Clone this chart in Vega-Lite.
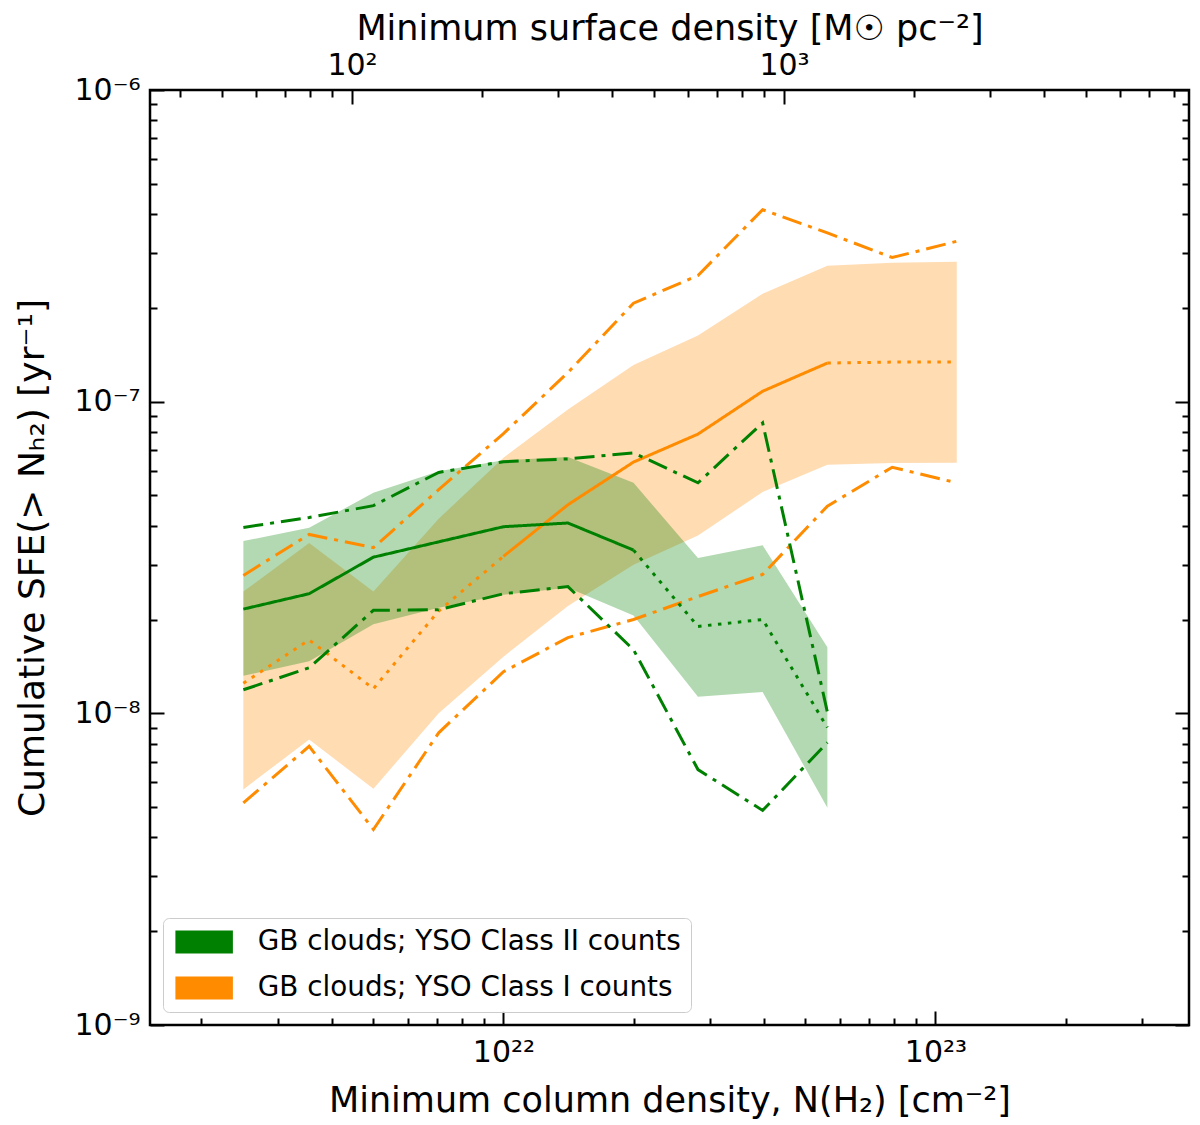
{
  "$schema": "https://vega.github.io/schema/vega-lite/v6.json",
  "description": "Cumulative SFE above a column density threshold, GB clouds, YSO Class I and Class II counts.",
  "width": 1039,
  "height": 935,
  "autosize": {"type": "none"},
  "padding": {"left": 150, "top": 90, "right": 11, "bottom": 100},
  "config": {
    "font": "DejaVu Sans",
    "view": {"stroke": "black", "strokeWidth": 2.5},
    "axis": {
      "domain": false, "grid": false, "tickColor": "black", "tickWidth": 2,
      "labelFont": "DejaVu Sans", "labelFontSize": 30, "labelColor": "black",
      "titleFont": "DejaVu Sans", "titleFontSize": 35, "titleFontWeight": "normal", "titleColor": "black",
      "labelFlush": false, "labelOverlap": false, "labelBound": false
    },
    "legend": {
      "orient": "bottom-left", "offset": 13, "padding": 10, "cornerRadius": 6,
      "strokeColor": "#cccccc", "fillColor": "rgba(255,255,255,0.8)",
      "labelFont": "DejaVu Sans", "labelFontSize": 27.8, "labelColor": "black", "labelLimit": 0,
      "rowPadding": 17, "labelOffset": 57
    }
  },
  "datasets": {
    "bands": [
      {"cls": "GB clouds; YSO Class II counts", "N": 2.5e21, "lo": 1.32e-8, "hi": 3.57e-8},
      {"cls": "GB clouds; YSO Class II counts", "N": 3.55e21, "lo": 1.47e-8, "hi": 3.94e-8},
      {"cls": "GB clouds; YSO Class II counts", "N": 5.0e21, "lo": 1.93e-8, "hi": 5.10e-8},
      {"cls": "GB clouds; YSO Class II counts", "N": 7.08e21, "lo": 2.18e-8, "hi": 5.98e-8},
      {"cls": "GB clouds; YSO Class II counts", "N": 1.0e22, "lo": 2.40e-8, "hi": 6.49e-8},
      {"cls": "GB clouds; YSO Class II counts", "N": 1.41e22, "lo": 2.53e-8, "hi": 6.65e-8},
      {"cls": "GB clouds; YSO Class II counts", "N": 2.0e22, "lo": 2.06e-8, "hi": 5.49e-8},
      {"cls": "GB clouds; YSO Class II counts", "N": 2.82e22, "lo": 1.13e-8, "hi": 3.15e-8},
      {"cls": "GB clouds; YSO Class II counts", "N": 3.98e22, "lo": 1.17e-8, "hi": 3.46e-8},
      {"cls": "GB clouds; YSO Class II counts", "N": 5.62e22, "lo": 4.98e-9, "hi": 1.63e-8},
      {"cls": "GB clouds; YSO Class I counts", "N": 2.5e21, "lo": 5.70e-9, "hi": 2.46e-8},
      {"cls": "GB clouds; YSO Class I counts", "N": 3.55e21, "lo": 8.24e-9, "hi": 3.52e-8},
      {"cls": "GB clouds; YSO Class I counts", "N": 5.0e21, "lo": 5.73e-9, "hi": 2.46e-8},
      {"cls": "GB clouds; YSO Class I counts", "N": 7.08e21, "lo": 1.00e-8, "hi": 4.21e-8},
      {"cls": "GB clouds; YSO Class I counts", "N": 1.0e22, "lo": 1.52e-8, "hi": 6.61e-8},
      {"cls": "GB clouds; YSO Class I counts", "N": 1.41e22, "lo": 2.21e-8, "hi": 9.43e-8},
      {"cls": "GB clouds; YSO Class I counts", "N": 2.0e22, "lo": 3.00e-8, "hi": 1.31e-7},
      {"cls": "GB clouds; YSO Class I counts", "N": 2.82e22, "lo": 3.72e-8, "hi": 1.63e-7},
      {"cls": "GB clouds; YSO Class I counts", "N": 3.98e22, "lo": 5.13e-8, "hi": 2.22e-7},
      {"cls": "GB clouds; YSO Class I counts", "N": 5.62e22, "lo": 6.28e-8, "hi": 2.73e-7},
      {"cls": "GB clouds; YSO Class I counts", "N": 7.94e22, "lo": 6.36e-8, "hi": 2.79e-7},
      {"cls": "GB clouds; YSO Class I counts", "N": 1.12e23, "lo": 6.37e-8, "hi": 2.81e-7}
    ],
    "lines": [
      {"c": "II", "s": "g_med_a", "st": "solid", "N": 2.5e21, "v": 2.16e-8},
      {"c": "II", "s": "g_med_a", "st": "solid", "N": 3.55e21, "v": 2.42e-8},
      {"c": "II", "s": "g_med_a", "st": "solid", "N": 5.0e21, "v": 3.17e-8},
      {"c": "II", "s": "g_med_a", "st": "solid", "N": 7.08e21, "v": 3.55e-8},
      {"c": "II", "s": "g_med_a", "st": "solid", "N": 1.0e22, "v": 3.97e-8},
      {"c": "II", "s": "g_med_a", "st": "solid", "N": 1.41e22, "v": 4.08e-8},
      {"c": "II", "s": "g_med_a", "st": "solid", "N": 2.0e22, "v": 3.34e-8},
      {"c": "II", "s": "g_med_b", "st": "dotted", "N": 2.0e22, "v": 3.34e-8},
      {"c": "II", "s": "g_med_b", "st": "dotted", "N": 2.82e22, "v": 1.90e-8},
      {"c": "II", "s": "g_med_b", "st": "dotted", "N": 3.98e22, "v": 2.00e-8},
      {"c": "II", "s": "g_med_b", "st": "dotted", "N": 5.62e22, "v": 9.0e-9},
      {"c": "II", "s": "g_up", "st": "dashdot", "N": 2.5e21, "v": 3.95e-8},
      {"c": "II", "s": "g_up", "st": "dashdot", "N": 3.55e21, "v": 4.25e-8},
      {"c": "II", "s": "g_up", "st": "dashdot", "N": 5.0e21, "v": 4.64e-8},
      {"c": "II", "s": "g_up", "st": "dashdot", "N": 7.08e21, "v": 5.93e-8},
      {"c": "II", "s": "g_up", "st": "dashdot", "N": 1.0e22, "v": 6.42e-8},
      {"c": "II", "s": "g_up", "st": "dashdot", "N": 1.41e22, "v": 6.55e-8},
      {"c": "II", "s": "g_up", "st": "dashdot", "N": 2.0e22, "v": 6.85e-8},
      {"c": "II", "s": "g_up", "st": "dashdot", "N": 2.82e22, "v": 5.49e-8},
      {"c": "II", "s": "g_up", "st": "dashdot", "N": 3.98e22, "v": 8.55e-8},
      {"c": "II", "s": "g_up", "st": "dashdot", "N": 5.62e22, "v": 1.01e-8},
      {"c": "II", "s": "g_lo", "st": "dashdot", "N": 2.5e21, "v": 1.19e-8},
      {"c": "II", "s": "g_lo", "st": "dashdot", "N": 3.55e21, "v": 1.40e-8},
      {"c": "II", "s": "g_lo", "st": "dashdot", "N": 5.0e21, "v": 2.14e-8},
      {"c": "II", "s": "g_lo", "st": "dashdot", "N": 7.08e21, "v": 2.15e-8},
      {"c": "II", "s": "g_lo", "st": "dashdot", "N": 1.0e22, "v": 2.42e-8},
      {"c": "II", "s": "g_lo", "st": "dashdot", "N": 1.41e22, "v": 2.55e-8},
      {"c": "II", "s": "g_lo", "st": "dashdot", "N": 2.0e22, "v": 1.60e-8},
      {"c": "II", "s": "g_lo", "st": "dashdot", "N": 2.82e22, "v": 6.6e-9},
      {"c": "II", "s": "g_lo", "st": "dashdot", "N": 3.98e22, "v": 4.88e-9},
      {"c": "II", "s": "g_lo", "st": "dashdot", "N": 5.62e22, "v": 8.06e-9},
      {"c": "I", "s": "o_med_a", "st": "dotted", "N": 2.5e21, "v": 1.25e-8},
      {"c": "I", "s": "o_med_a", "st": "dotted", "N": 3.55e21, "v": 1.72e-8},
      {"c": "I", "s": "o_med_a", "st": "dotted", "N": 5.0e21, "v": 1.20e-8},
      {"c": "I", "s": "o_med_a", "st": "dotted", "N": 7.08e21, "v": 2.13e-8},
      {"c": "I", "s": "o_med_a", "st": "dotted", "N": 1.0e22, "v": 3.19e-8},
      {"c": "I", "s": "o_med_b", "st": "solid", "N": 1.0e22, "v": 3.19e-8},
      {"c": "I", "s": "o_med_b", "st": "solid", "N": 1.41e22, "v": 4.67e-8},
      {"c": "I", "s": "o_med_b", "st": "solid", "N": 2.0e22, "v": 6.40e-8},
      {"c": "I", "s": "o_med_b", "st": "solid", "N": 2.82e22, "v": 7.87e-8},
      {"c": "I", "s": "o_med_b", "st": "solid", "N": 3.98e22, "v": 1.08e-7},
      {"c": "I", "s": "o_med_b", "st": "solid", "N": 5.62e22, "v": 1.33e-7},
      {"c": "I", "s": "o_med_c", "st": "dotted", "N": 5.62e22, "v": 1.33e-7},
      {"c": "I", "s": "o_med_c", "st": "dotted", "N": 7.94e22, "v": 1.34e-7},
      {"c": "I", "s": "o_med_c", "st": "dotted", "N": 1.12e23, "v": 1.34e-7},
      {"c": "I", "s": "o_up", "st": "dashdot", "N": 2.5e21, "v": 2.77e-8},
      {"c": "I", "s": "o_up", "st": "dashdot", "N": 3.55e21, "v": 3.75e-8},
      {"c": "I", "s": "o_up", "st": "dashdot", "N": 5.0e21, "v": 3.40e-8},
      {"c": "I", "s": "o_up", "st": "dashdot", "N": 7.08e21, "v": 5.22e-8},
      {"c": "I", "s": "o_up", "st": "dashdot", "N": 1.0e22, "v": 7.9e-8},
      {"c": "I", "s": "o_up", "st": "dashdot", "N": 1.41e22, "v": 1.24e-7},
      {"c": "I", "s": "o_up", "st": "dashdot", "N": 2.0e22, "v": 2.07e-7},
      {"c": "I", "s": "o_up", "st": "dashdot", "N": 2.82e22, "v": 2.54e-7},
      {"c": "I", "s": "o_up", "st": "dashdot", "N": 3.98e22, "v": 4.13e-7},
      {"c": "I", "s": "o_up", "st": "dashdot", "N": 5.62e22, "v": 3.48e-7},
      {"c": "I", "s": "o_up", "st": "dashdot", "N": 7.94e22, "v": 2.90e-7},
      {"c": "I", "s": "o_up", "st": "dashdot", "N": 1.12e23, "v": 3.27e-7},
      {"c": "I", "s": "o_lo", "st": "dashdot", "N": 2.5e21, "v": 5.16e-9},
      {"c": "I", "s": "o_lo", "st": "dashdot", "N": 3.55e21, "v": 7.84e-9},
      {"c": "I", "s": "o_lo", "st": "dashdot", "N": 5.0e21, "v": 4.24e-9},
      {"c": "I", "s": "o_lo", "st": "dashdot", "N": 7.08e21, "v": 8.66e-9},
      {"c": "I", "s": "o_lo", "st": "dashdot", "N": 1.0e22, "v": 1.36e-8},
      {"c": "I", "s": "o_lo", "st": "dashdot", "N": 1.41e22, "v": 1.75e-8},
      {"c": "I", "s": "o_lo", "st": "dashdot", "N": 2.0e22, "v": 2.00e-8},
      {"c": "I", "s": "o_lo", "st": "dashdot", "N": 2.82e22, "v": 2.37e-8},
      {"c": "I", "s": "o_lo", "st": "dashdot", "N": 3.98e22, "v": 2.79e-8},
      {"c": "I", "s": "o_lo", "st": "dashdot", "N": 5.62e22, "v": 4.62e-8},
      {"c": "I", "s": "o_lo", "st": "dashdot", "N": 7.94e22, "v": 6.16e-8},
      {"c": "I", "s": "o_lo", "st": "dashdot", "N": 1.12e23, "v": 5.49e-8}
    ],
    "sigma": [{"S": 100}, {"S": 1000}]
  },
  "resolve": {"scale": {"x": "independent"}, "axis": {"x": "independent", "y": "independent"}},
  "layer": [
    {
      "resolve": {"axis": {"x": "independent", "y": "independent"}},
      "layer": [
        {
          "data": {"name": "bands"},
          "transform": [{"filter": "datum.cls == 'GB clouds; YSO Class I counts'"}],
          "mark": {"type": "area", "fillOpacity": 0.3},
          "encoding": {
            "x": {
              "field": "N", "type": "quantitative",
              "scale": {"type": "log", "domain": [1.52e21, 3.862e23], "nice": false},
              "axis": {
                "orient": "bottom", "values": [1e22, 1e23], "tickSize": -14, "labelPadding": 26,
                "labelExpr": "datum.value < 5e22 ? '10²²' : '10²³'",
                "title": "Minimum column density, N(H₂) [cm⁻²]", "titlePadding": 16
              }
            },
            "y": {
              "field": "lo", "type": "quantitative",
              "scale": {"type": "log", "domain": [1e-9, 1e-6], "nice": false},
              "axis": {
                "orient": "left", "values": [1e-9, 1e-8, 1e-7, 1e-6], "tickSize": -14, "labelPadding": 24,
                "labelExpr": "datum.value < 5e-9 ? '10⁻⁹' : (datum.value < 5e-8 ? '10⁻⁸' : (datum.value < 5e-7 ? '10⁻⁷' : '10⁻⁶'))",
                "title": "Cumulative SFE(> Nₕ₂) [yr⁻¹]", "titlePadding": 22, "titleFontSize": 36
              }
            },
            "y2": {"field": "hi"},
            "color": {
              "field": "cls", "type": "nominal",
              "scale": {"domain": ["GB clouds; YSO Class II counts", "GB clouds; YSO Class I counts"], "range": ["#008000", "#ff8c00"]},
              "legend": {"title": null, "symbolType": "M-1,-1H4V1H-1Z", "symbolSize": 529, "symbolStrokeWidth": 0, "symbolOpacity": 1, "symbolFillOpacity": 1}
            }
          }
        },
        {
          "data": {"name": "bands"},
          "transform": [{"filter": "datum.cls == 'GB clouds; YSO Class II counts'"}],
          "mark": {"type": "area", "fillOpacity": 0.3},
          "encoding": {
            "x": {
              "field": "N", "type": "quantitative",
              "scale": {"type": "log", "domain": [1.52e21, 3.862e23], "nice": false},
              "axis": {
                "orient": "bottom", "tickSize": -7, "labels": false, "title": null,
                "values": [2e21, 3e21, 4e21, 5e21, 6e21, 7e21, 8e21, 9e21, 2e22, 3e22, 4e22, 5e22, 6e22, 7e22, 8e22, 9e22, 2e23, 3e23]
              }
            },
            "y": {
              "field": "lo", "type": "quantitative",
              "scale": {"type": "log", "domain": [1e-9, 1e-6], "nice": false},
              "axis": {
                "orient": "left", "tickSize": -7, "labels": false, "title": null,
                "values": [2e-9, 3e-9, 4e-9, 5e-9, 6e-9, 7e-9, 8e-9, 9e-9, 2e-8, 3e-8, 4e-8, 5e-8, 6e-8, 7e-8, 8e-8, 9e-8, 2e-7, 3e-7, 4e-7, 5e-7, 6e-7, 7e-7, 8e-7, 9e-7]
              }
            },
            "y2": {"field": "hi"},
            "color": {"field": "cls", "type": "nominal", "legend": null}
          }
        },
        {
          "data": {"name": "lines"},
          "transform": [{"filter": "datum.c == 'I'"}],
          "mark": {"type": "line", "color": "#ff8c00", "strokeWidth": 3, "strokeCap": "butt"},
          "encoding": {
            "x": {"field": "N", "type": "quantitative", "scale": {"type": "log", "domain": [1.52e21, 3.862e23], "nice": false}, "axis": null},
            "y": {
              "field": "v", "type": "quantitative",
              "scale": {"type": "log", "domain": [1e-9, 1e-6], "nice": false},
              "axis": {"orient": "right", "values": [1e-9, 1e-8, 1e-7, 1e-6], "tickSize": -14, "labels": false, "title": null}
            },
            "detail": {"field": "s"},
            "strokeDash": {
              "field": "st", "type": "nominal", "legend": null,
              "scale": {"domain": ["solid", "dotted", "dashdot"], "range": [[1, 0], [3.5, 6.5], [20, 7, 4, 7]]}
            }
          }
        },
        {
          "data": {"name": "lines"},
          "transform": [{"filter": "datum.c == 'II'"}],
          "mark": {"type": "line", "color": "#008000", "strokeWidth": 3, "strokeCap": "butt"},
          "encoding": {
            "x": {"field": "N", "type": "quantitative", "scale": {"type": "log", "domain": [1.52e21, 3.862e23], "nice": false}, "axis": null},
            "y": {
              "field": "v", "type": "quantitative",
              "scale": {"type": "log", "domain": [1e-9, 1e-6], "nice": false},
              "axis": {
                "orient": "right", "tickSize": -7, "labels": false, "title": null,
                "values": [2e-9, 3e-9, 4e-9, 5e-9, 6e-9, 7e-9, 8e-9, 9e-9, 2e-8, 3e-8, 4e-8, 5e-8, 6e-8, 7e-8, 8e-8, 9e-8, 2e-7, 3e-7, 4e-7, 5e-7, 6e-7, 7e-7, 8e-7, 9e-7]
              }
            },
            "detail": {"field": "s"},
            "strokeDash": {
              "field": "st", "type": "nominal", "legend": null,
              "scale": {"domain": ["solid", "dotted", "dashdot"], "range": [[1, 0], [3.5, 6.5], [20, 7, 4, 7]]}
            }
          }
        }
      ]
    },
    {
      "data": {"name": "sigma"},
      "mark": {"type": "point", "opacity": 0},
      "encoding": {
        "x": {
          "field": "S", "type": "quantitative",
          "scale": {"type": "log", "domain": [34.08, 8659], "nice": false},
          "axis": {
            "orient": "top", "values": [100, 1000], "tickSize": -14, "labelPadding": 24,
            "labelExpr": "datum.value < 500 ? '10²' : '10³'",
            "title": "Minimum surface density [M☉ pc⁻²]", "titlePadding": 4
          }
        }
      }
    },
    {
      "data": {"name": "sigma"},
      "mark": {"type": "point", "opacity": 0},
      "encoding": {
        "x": {
          "field": "S", "type": "quantitative",
          "scale": {"type": "log", "domain": [34.08, 8659], "nice": false},
          "axis": {
            "orient": "top", "tickSize": -7, "labels": false, "title": null,
            "values": [40, 50, 60, 70, 80, 90, 200, 300, 400, 500, 600, 700, 800, 900, 2000, 3000, 4000, 5000, 6000, 7000, 8000]
          }
        }
      }
    }
  ]
}
